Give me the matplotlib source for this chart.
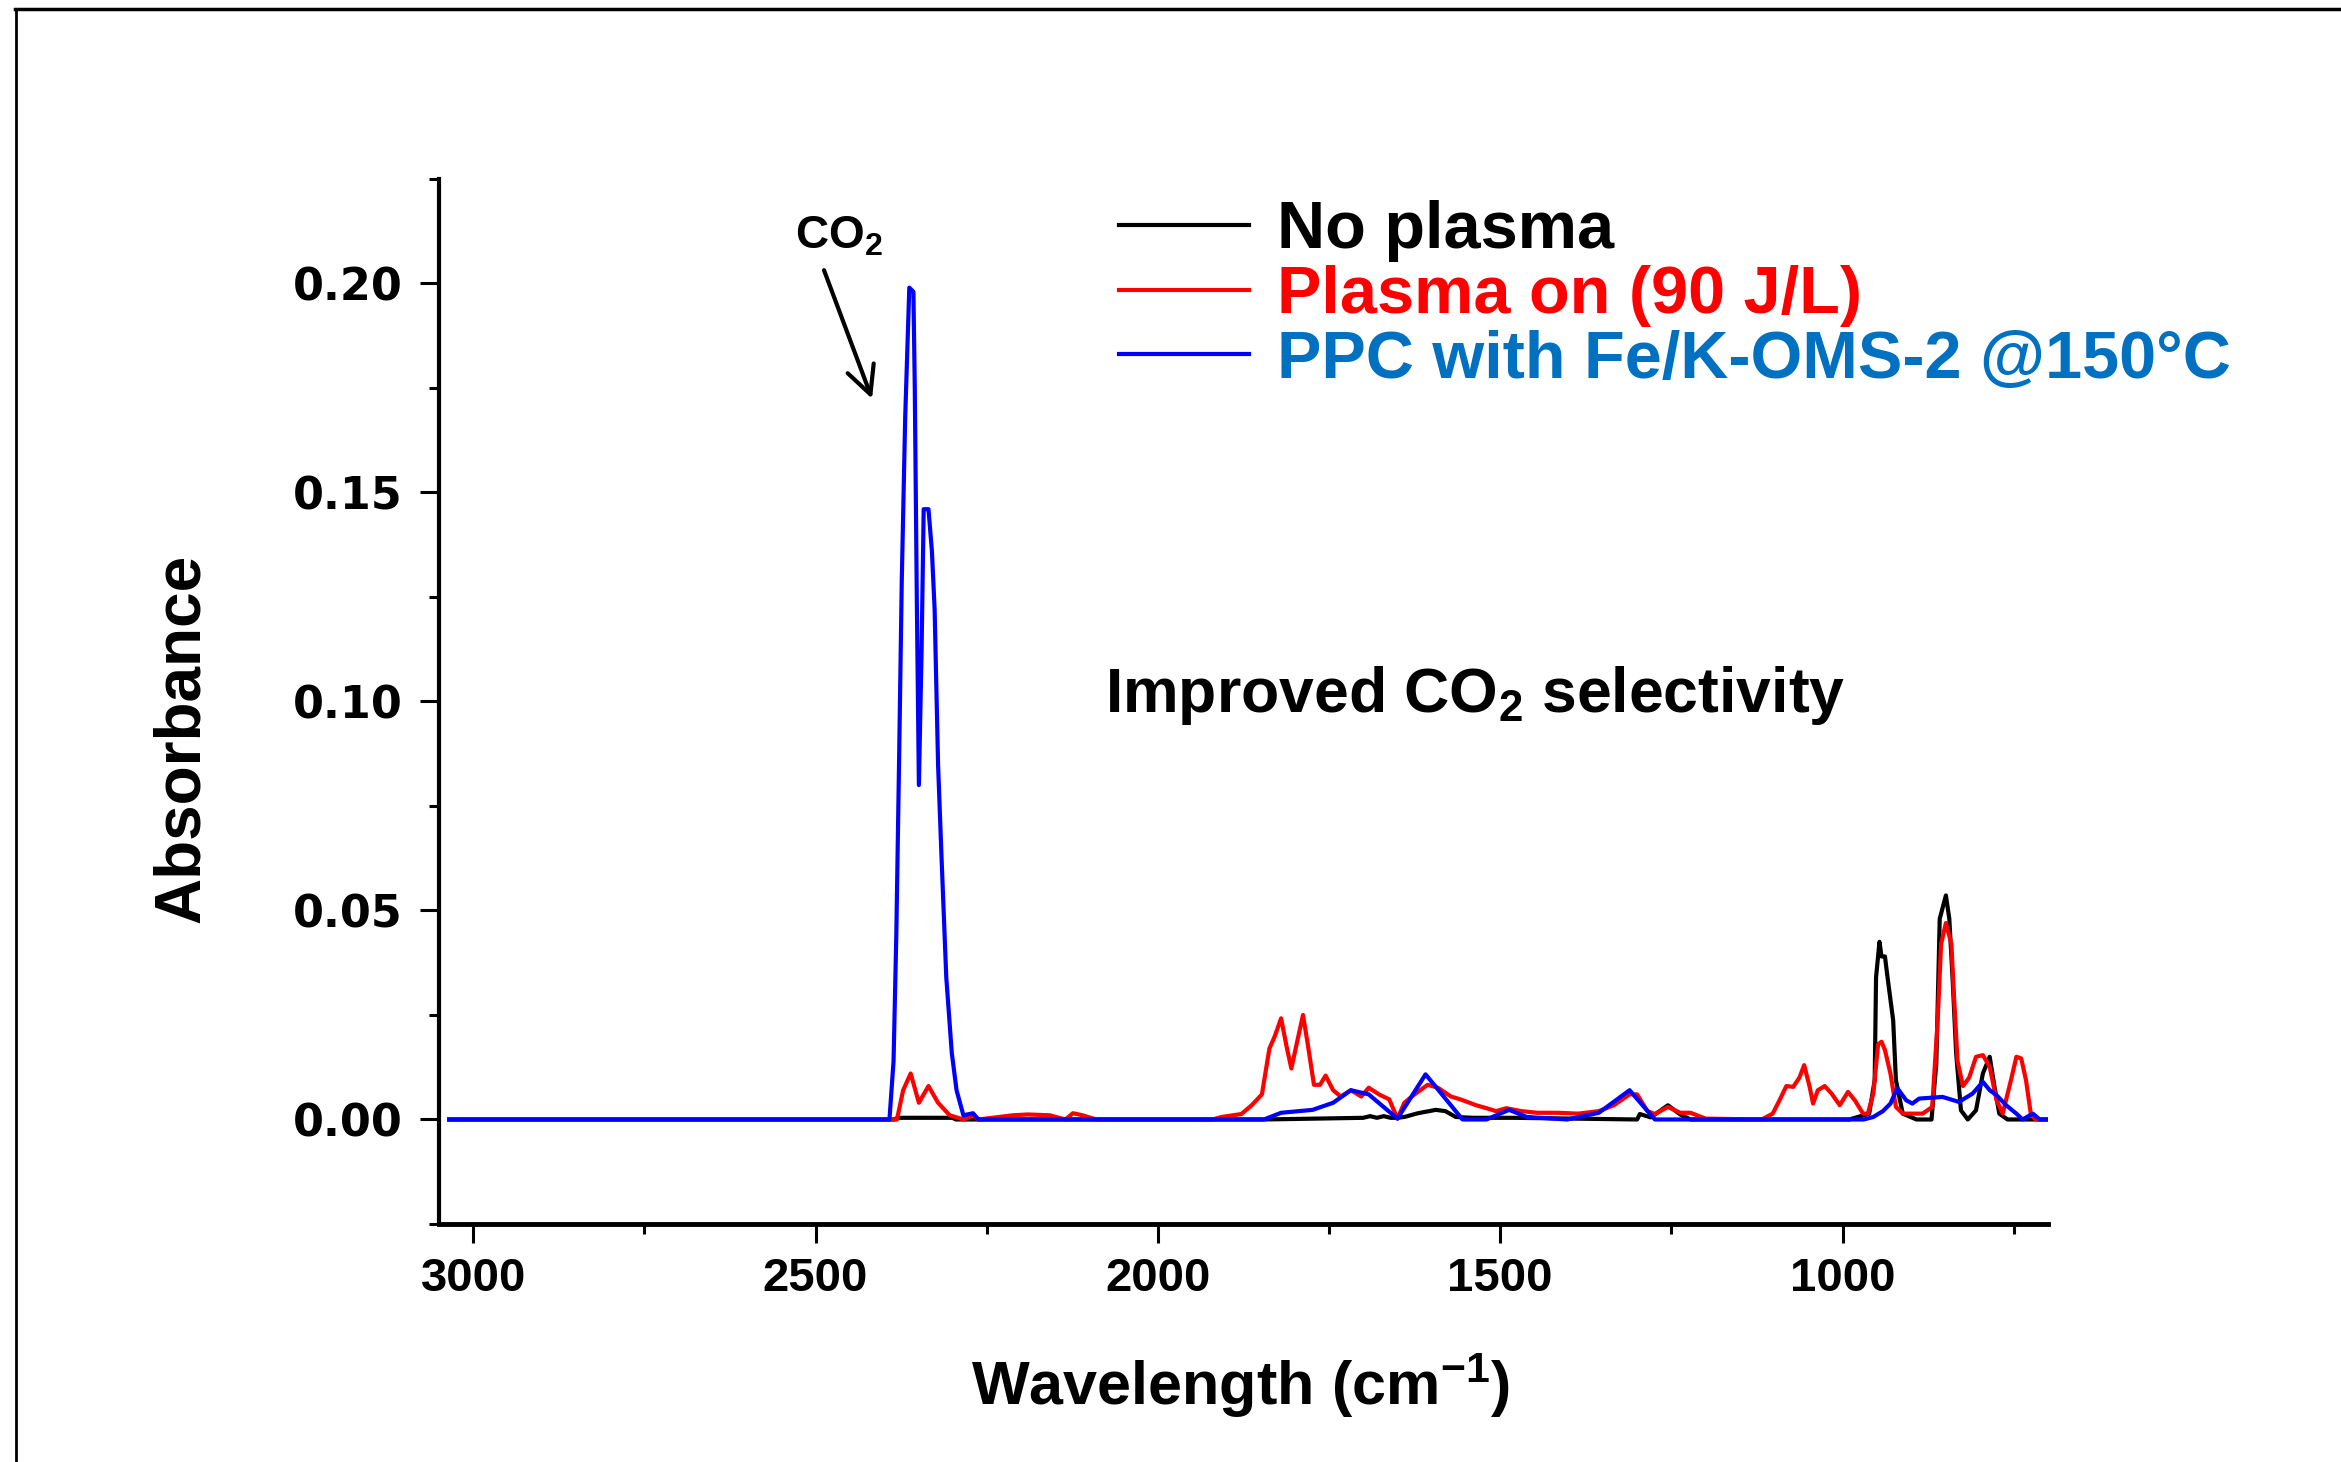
import matplotlib
matplotlib.use("Agg")
import matplotlib.pyplot as plt
from matplotlib.ticker import MultipleLocator, FormatStrFormatter
from matplotlib.lines import Line2D

plt.rcParams['font.family'] = ['Liberation Sans', 'DejaVu Sans']
plt.rcParams['font.weight'] = 'bold'
plt.rcParams['mathtext.default'] = 'regular'

# --- data (wavenumber in cm-1, absorbance) ---
w_black = [3035, 2385, 2380, 2300, 2295, 1845, 1700, 1690, 1680, 1670, 1660, 1650, 1640,
           1620, 1594, 1580, 1565, 1540, 1480, 1300, 1296, 1280, 1255, 1237, 1222,
           990, 961, 953, 951, 946, 943, 938, 935, 926, 922, 912, 892,
           870, 863, 858, 849, 844, 839, 834, 827, 817, 805, 795, 785, 778, 771, 759, 703]
a_black = [0, 0, 0.0004, 0.0004, 0, 0, 0.0004, 0.0008, 0.0004, 0.0008, 0.0004, 0.0004, 0.0006,
           0.0015, 0.0023, 0.002, 0.0006, 0.0004, 0.0004, 0, 0.0013, 0.0005, 0.0034, 0.0012, 0,
           0, 0.0014, 0.0094, 0.034, 0.0425, 0.039, 0.039, 0.035, 0.0237, 0.0094, 0.0014, 0,
           0, 0.0134, 0.048, 0.0536, 0.048, 0.033, 0.0158, 0.0022, 0, 0.0022, 0.011, 0.015, 0.0078, 0.0014, 0, 0]

w_red = [3035, 2390, 2381, 2372, 2361, 2349, 2335, 2321, 2304, 2284, 2270, 2262,
         2212, 2190, 2158, 2135, 2124, 2110, 2090, 1920, 1907, 1878, 1863, 1848,
         1837, 1829, 1820, 1812, 1805, 1796, 1788, 1781, 1772, 1763, 1755, 1744,
         1733, 1718, 1703, 1692, 1677, 1662, 1650, 1640, 1625, 1606, 1591, 1572,
         1558, 1535, 1520, 1506, 1491, 1469, 1446, 1416, 1386, 1356, 1334, 1311,
         1300, 1285, 1274, 1255, 1237, 1222, 1200, 1118, 1102, 1092, 1082, 1072,
         1063, 1056, 1048, 1043, 1036, 1026, 1016, 1004, 992, 982, 970, 963,
         955, 948, 943, 938, 930, 922, 912, 883, 869, 861, 856, 849,
         841, 837, 832, 824, 815, 805, 795, 785, 775, 766, 754, 746,
         739, 732, 725, 718, 703]
a_red = [0, 0, 0, 0.007, 0.011, 0.004, 0.008, 0.004, 0.001, 0, 0.001, 0,
         0.001, 0.0012, 0.001, 0, 0.0015, 0.001, 0, 0, 0.0006, 0.0013, 0.0034, 0.006,
         0.017, 0.020, 0.0242, 0.0175, 0.0122, 0.019, 0.025, 0.018, 0.0083, 0.0083, 0.0105, 0.007,
         0.0055, 0.007, 0.0055, 0.0076, 0.006, 0.0048, 0.0002, 0.004, 0.006, 0.0083, 0.0076, 0.0055,
         0.0048, 0.0034, 0.0027, 0.002, 0.0027, 0.002, 0.0016, 0.0016, 0.0014, 0.002, 0.0034, 0.006,
         0.006, 0.002, 0.0013, 0.003, 0.0016, 0.0016, 0.0002, 0, 0.0014, 0.0046, 0.008, 0.0078,
         0.010, 0.013, 0.0078, 0.0038, 0.007, 0.008, 0.0062, 0.0034, 0.0066, 0.0046, 0.0014, 0.0014,
         0.0062, 0.018, 0.0186, 0.0166, 0.011, 0.003, 0.0014, 0.0014, 0.003, 0.0237, 0.042, 0.047,
         0.042, 0.029, 0.014, 0.008, 0.010, 0.015, 0.0154, 0.0126, 0.0046, 0.0014, 0.0094, 0.015,
         0.0146, 0.0094, 0.0014, 0, 0]

w_blue = [3035, 2392, 2386, 2382, 2378, 2374, 2369, 2363, 2357, 2355, 2352, 2349,
          2345, 2342, 2335, 2330, 2326, 2321, 2316, 2309, 2301, 2294, 2284, 2270,
          2262, 1845, 1820, 1774, 1744, 1718, 1692, 1650, 1609, 1565, 1555, 1520,
          1487, 1461, 1402, 1356, 1311, 1274, 969, 955, 941, 930, 920, 907,
          898, 888, 854, 830, 810, 795, 785, 775, 761, 746, 737, 722, 712, 703]
a_blue = [0, 0, 0.014, 0.044, 0.085, 0.129, 0.168, 0.199, 0.198, 0.175, 0.124, 0.080,
          0.113, 0.146, 0.146, 0.136, 0.122, 0.085, 0.063, 0.034, 0.016, 0.007, 0.001, 0.0015,
          0, 0, 0.0016, 0.0023, 0.004, 0.007, 0.006, 0.0002, 0.0108, 0.002, 0, 0,
          0.0023, 0.0006, 0, 0.0016, 0.007, 0, 0, 0.0006, 0.002, 0.0038, 0.0075, 0.0046,
          0.0038, 0.005, 0.0054, 0.0042, 0.0062, 0.009, 0.007, 0.0058, 0.0034, 0.0014, 0, 0.0014, 0, 0]

labels = ['No plasma', 'Plasma on (90 J/L)', 'PPC with Fe/K-OMS-2 @150°C']
line_colors = ['black', '#ff0000', '#0000ff']
text_colors = ['black', '#ff0000', '#0070c0']

fig = plt.figure(figsize=(23.41, 14.62), dpi=100)
ax = fig.add_axes([0.1875, 0.1628, 0.6873, 0.7148])

ax.plot(w_black, a_black, color=line_colors[0], lw=3, label=labels[0])
ax.plot(w_red, a_red, color=line_colors[1], lw=3, label=labels[1])
ax.plot(w_blue, a_blue, color=line_colors[2], lw=3, label=labels[2])

ax.set_xlim(3050, 700)
ax.set_ylim(-0.025, 0.225)
ax.xaxis.set_major_locator(MultipleLocator(500))
ax.xaxis.set_minor_locator(MultipleLocator(250))
ax.yaxis.set_major_locator(MultipleLocator(0.05))
ax.yaxis.set_minor_locator(MultipleLocator(0.025))
ax.yaxis.set_major_formatter(FormatStrFormatter('%.2f'))

for s in ['top', 'right']:
    ax.spines[s].set_visible(False)
ax.spines['left'].set_linewidth(3)
ax.spines['bottom'].set_linewidth(3.5)

ax.tick_params(which='major', direction='out', length=14, width=2.2)
ax.tick_params(which='minor', direction='out', length=7, width=2.2)
ax.tick_params(axis='x', which='major', labelsize=34, pad=10)
ax.tick_params(axis='y', which='major', pad=12)
for t in ax.get_yticklabels():
    t.set_fontfamily('DejaVu Sans')
    t.set_fontsize(32)
    t.set_fontweight('bold')
for t in ax.get_xticklabels():
    t.set_fontweight('bold')

fig.text(182 / 2341, 0.495, 'Absorbance', rotation=90, ha='center', va='center',
         fontsize=46, fontweight='bold')
fig.text(0.530, 0.052, 'Wavelength (cm$^{-1}$)', ha='center', va='center',
         fontsize=44, fontweight='bold')

fig.text(0.472, 0.513, 'Improved CO$_2$ selectivity', ha='left', va='baseline',
         fontsize=45, fontweight='bold')

ax.annotate('', xy=(2416, 0.1718), xytext=(2489, 0.2038),
            arrowprops=dict(arrowstyle='->,head_length=0.5,head_width=0.25',
                            lw=3, color='black', mutation_scale=40))
ax.text(2466, 0.2113, 'CO$_2$', ha='center', va='center', fontsize=33, fontweight='bold')

leg = ax.legend(loc='upper left', bbox_to_anchor=(0.478, 0.863), bbox_transform=fig.transFigure,
                frameon=False, prop={'weight': 'bold', 'size': 48}, handlelength=1.95,
                handletextpad=0.42, labelspacing=0.04, borderpad=0, borderaxespad=0,
                labelcolor=text_colors)
for h in leg.get_lines():
    h.set_linewidth(3)

# frame lines around the picture (top and left edges)
fig.add_artist(Line2D([15 / 2341, 1], [1 - 9 / 1462, 1 - 9 / 1462], color='black', lw=2.5,
                      transform=fig.transFigure))
fig.add_artist(Line2D([16 / 2341, 16 / 2341], [0, 1 - 9 / 1462], color='black', lw=2,
                      transform=fig.transFigure))

fig.savefig('out.png', dpi=100)
